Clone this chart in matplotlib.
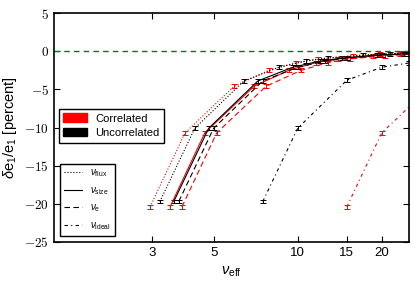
import matplotlib
matplotlib.use('Agg')
import matplotlib.pyplot as plt
from matplotlib.patches import Patch
from matplotlib.lines import Line2D

plt.rcParams['font.family'] = ['Liberation Sans', 'DejaVu Sans']
plt.rcParams['mathtext.fontset'] = 'custom'
plt.rcParams['mathtext.rm'] = 'Liberation Sans'
plt.rcParams['mathtext.it'] = 'Liberation Sans:italic'
plt.rcParams['mathtext.bf'] = 'Liberation Sans:bold'

# bias in percent
bias_corr = [-20.4, -10.7, -4.6, -2.5, -1.5, -1.0, -0.6, -0.4, -0.25]
bias_uncorr = [-19.7, -10.1, -3.9, -2.1, -1.3, -0.9, -0.5, -0.35, -0.2]
bias_ideal_corr = [-20.4, -10.7, -4.6]
bias_ideal_uncorr = [-19.7, -10.1, -3.8, -2.1, -1.55, -1.1]
err = 0.25

# effective nu for each estimator
nu_flux_corr = [2.96, 3.95, 5.92, 7.9, 9.9, 11.8, 15.8, 19.7, 23.7]
nu_flux_uncorr = [3.21, 4.28, 6.42, 8.56, 10.7, 12.8, 17.1, 21.4, 25.7]
nu_size_corr = [3.49, 4.65, 6.98, 9.3, 11.6, 14.0, 18.6, 23.3, 27.9]
nu_size_uncorr = [3.6, 4.8, 7.2, 9.6, 12.0, 14.4, 19.2, 24.0, 28.8]
nu_e_corr = [3.85, 5.13, 7.7, 10.3, 12.8, 15.4, 20.5, 25.7, 30.8]
nu_e_uncorr = [3.75, 5.0, 7.5, 10.0, 12.5, 15.0, 20.0, 25.0, 30.0]
nu_ideal_corr = [15.0, 20.0, 30.0]
nu_ideal_uncorr = [7.5, 10.0, 15.0, 20.0, 25.0, 30.0]

xticks = [3, 5, 10, 15, 20]
yticks = [-25, -20, -15, -10, -5, 0, 5]

dotted = ':'
solid = '-'
dashed = (0, (5, 3))
dashdot = (0, (3, 3, 1, 3))

fig = plt.figure(figsize=(4.15, 2.84), dpi=100)
ax = fig.add_axes([0.130, 0.148, 0.855, 0.806])

curves = [
    (nu_flux_corr, bias_corr, 'r', dotted),
    (nu_flux_uncorr, bias_uncorr, 'k', dotted),
    (nu_size_corr, bias_corr, 'r', solid),
    (nu_size_uncorr, bias_uncorr, 'k', solid),
    (nu_e_corr, bias_corr, 'r', dashed),
    (nu_e_uncorr, bias_uncorr, 'k', dashed),
    (nu_ideal_corr, bias_ideal_corr, 'r', dashdot),
    (nu_ideal_uncorr, bias_ideal_uncorr, 'k', dashdot),
]
for x, y, c, ls in curves:
    ax.errorbar(x, y, yerr=err, color=c, ls=ls, lw=0.8, elinewidth=0.7,
                capsize=2, capthick=0.7)

ax.axhline(0, color='g', ls='--', dashes=(4, 3), lw=1.0)

ax.set_xscale('log')
ax.set_xlim(1.34, 25)
ax.set_ylim(-25, 5)
ax.set_xticks(xticks)
ax.set_xticklabels([str(t) for t in xticks], fontsize=9.5)
ax.xaxis.set_minor_locator(matplotlib.ticker.NullLocator())
ax.set_yticks(yticks)
ax.set_yticklabels([r'$%d$' % t for t in yticks], fontsize=9.5, math_fontfamily='cm')
ax.tick_params(direction='in', top=True, right=True, length=4, width=0.8)
for s in ax.spines.values():
    s.set_linewidth(1.2)

ax.set_xlabel(r'$\nu_{\rm eff}$', fontsize=10.5)
ax.set_ylabel(r'$\delta{\rm e}_1/{\rm e}_1$ [percent]', fontsize=10.5)

leg1 = ax.legend([Patch(color='r'), Patch(color='k')], ['Correlated', 'Uncorrelated'],
                 loc='upper left', bbox_to_anchor=(0.014, 0.581), borderaxespad=0,
                 fontsize=8, fancybox=False, edgecolor='k', framealpha=1,
                 handlelength=2.1, handleheight=0.8, labelspacing=0.4)
ax.add_artist(leg1)

hs = [Line2D([], [], color='k', ls=ls, lw=0.8) for ls in [dotted, solid, dashed, dashdot]]
ax.legend(hs, [r'$\nu_{\rm flux}$', r'$\nu_{\rm size}$', r'$\nu_{\rm e}$', r'$\nu_{\rm ideal}$'],
          loc='lower left', bbox_to_anchor=(0.017, 0.026), borderaxespad=0,
          fontsize=7, fancybox=False, edgecolor='k', framealpha=1,
          handlelength=1.9, labelspacing=0.6)

fig.savefig('out.png', dpi=100)
